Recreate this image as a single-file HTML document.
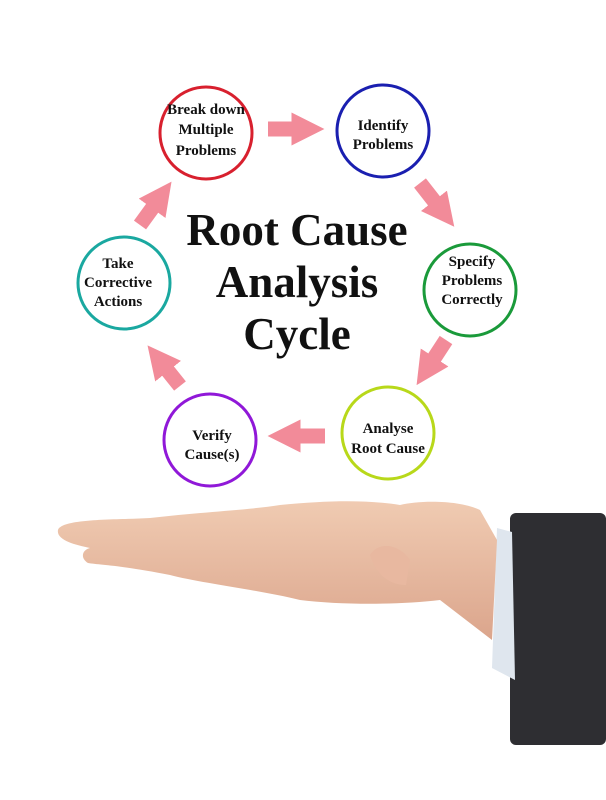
<!DOCTYPE html>
<html><head><style>
body{margin:0;background:#fff;}
svg{display:block}
text{font-family:"Liberation Serif",serif;font-weight:bold;fill:#111;text-anchor:middle}
</style></head><body>
<svg width="606" height="800" viewBox="0 0 606 800">
<defs>
<linearGradient id="sk" x1="0" y1="0" x2="0" y2="1">
<stop offset="0" stop-color="#f0cbb2"/><stop offset="1" stop-color="#dba58c"/></linearGradient>
<marker id="a" viewBox="0 0 10 10" refX="2" refY="5" markerWidth="2.2" markerHeight="2.6" orient="auto"><path d="M0,0L10,5L0,10z" fill="#f28b99"/></marker>
</defs>
<g fill="none" stroke-width="3">
<circle cx="206" cy="133" r="46" stroke="#d8202e"/>
<circle cx="383" cy="131" r="46" stroke="#1a1fb0"/>
<circle cx="470" cy="290" r="46" stroke="#1a9a3a"/>
<circle cx="388" cy="433" r="46" stroke="#b8d81a"/>
<circle cx="210" cy="440" r="46" stroke="#9018d8"/>
<circle cx="124" cy="283" r="46" stroke="#1aa8a0"/>
</g>
<g stroke="#f28b99" stroke-width="15" marker-end="url(#a)">
<line x1="268" y1="129" x2="298" y2="129"/>
<line x1="420" y1="183" x2="438" y2="206"/>
<line x1="446" y1="340" x2="431" y2="363"/>
<line x1="325" y1="436" x2="294" y2="436"/>
<line x1="180" y1="386" x2="164" y2="366"/>
<line x1="140" y1="225" x2="156" y2="203"/>
</g>
<g font-size="15">
<text x="206" y="114">Break down</text><text x="206" y="134">Multiple</text><text x="206" y="155">Problems</text>
<text x="383" y="130">Identify</text><text x="383" y="149">Problems</text>
<text x="472" y="266">Specify</text><text x="472" y="285">Problems</text><text x="472" y="304">Correctly</text>
<text x="388" y="433">Analyse</text><text x="388" y="453">Root Cause</text>
<text x="212" y="440">Verify</text><text x="212" y="459">Cause(s)</text>
<text x="118" y="268">Take</text><text x="118" y="287">Corrective</text><text x="118" y="306">Actions</text>
</g>
<g font-size="45">
<text x="297" y="245">Root Cause</text><text x="297" y="297">Analysis</text><text x="297" y="349">Cycle</text>
</g>
<rect x="510" y="513" width="96" height="232" rx="6" fill="#2e2e32"/>
<path d="M497,528L512,532L515,680L492,668z" fill="#dfe6ee"/>
<path d="M58,530C62,518 120,520 150,518C200,512 250,510 280,505C330,500 370,500 400,505C420,500 460,500 480,510L497,540L492,640L440,600C400,605 340,605 300,600C260,590 200,583 170,575C120,565 100,565 88,563C80,558 82,550 90,548C75,545 56,540 58,530z" fill="url(#sk)"/>
<path d="M370,555C380,540 400,545 410,560L406,585C395,585 378,580 370,555z" fill="#e8b8a0"/>
</svg>
</body></html>
